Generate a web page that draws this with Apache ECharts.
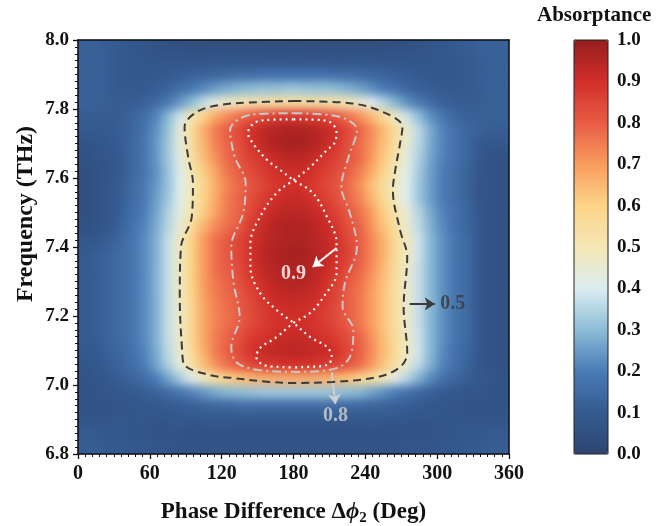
<!DOCTYPE html>
<html>
<head>
<meta charset="utf-8">
<script src="https://cdn.jsdelivr.net/npm/echarts@6/dist/echarts.min.js"></script>
<style>
html,body{margin:0;padding:0;background:#fff;overflow:hidden;}
.layer{position:absolute;left:0;top:0;width:657px;height:526px;}
#clip{position:absolute;left:78px;top:40px;width:431px;height:414px;overflow:hidden;}
#blurLayer{position:absolute;left:-78px;top:-40px;width:657px;height:526px;filter:blur(5px);}
</style>
</head>
<body>
<div id="baseLayer" class="layer"></div>
<div id="clip"><div id="blurLayer"></div></div>
<div id="topLayer" class="layer"></div>
<script>
// Phase difference cell centres (deg) and frequency cell centres (THz)
const phiCenters = [5,15,25,35,45,55,65,75,85,95,105,115,125,135,145,155,165,175,185,195,205,215,225,235,245,255,265,275,285,295,305,315,325,335,345,355];
const freqCenters = [6.82,6.86,6.90,6.94,6.98,7.02,7.06,7.10,7.14,7.18,7.22,7.26,7.30,7.34,7.38,7.42,7.46,7.50,7.54,7.58,7.62,7.66,7.70,7.74,7.78,7.82,7.86,7.90,7.94,7.98];
// Absorptance x100, one row per frequency (ascending), one value per phase column
const absorb = [
 [11,11,10,10,9,9,8,8,7,7,7,7,7,7,7,7,7,7,7,7,7,7,7,7,7,7,7,8,8,8,9,9,10,10,11,11],
 [10,10,9,9,8,8,7,7,7,6,6,6,6,6,6,6,6,6,6,6,6,6,6,6,6,6,6,7,7,7,8,8,9,9,10,10],
 [8,8,8,8,8,8,8,8,9,9,9,9,9,9,9,9,9,9,9,9,9,9,9,9,9,9,9,8,8,8,8,8,8,8,8,8],
 [7,7,7,8,8,9,9,10,11,12,13,14,14,15,15,15,15,15,15,15,15,15,14,14,13,13,12,11,10,9,8,8,7,7,7,7],
 [7,7,8,9,10,11,13,15,18,21,24,27,29,30,31,32,32,32,32,32,32,31,30,29,26,23,20,17,14,12,10,9,8,8,7,7],
 [7,8,9,11,13,16,20,26,33,41,48,55,60,63,65,66,67,67,67,67,66,65,63,60,55,49,42,35,28,22,17,14,11,9,8,7],
 [8,9,11,13,16,20,26,34,44,54,64,72,77,81,85,88,89,90,90,89,88,86,82,78,71,63,54,45,36,28,21,17,13,9,7,6],
 [9,10,12,14,17,21,27,36,46,57,67,75,80,84,89,92,93,94,94,93,92,90,85,80,73,65,57,48,38,29,22,17,14,9,7,6],
 [10,11,13,15,18,22,28,37,47,58,68,75,79,83,87,89,91,92,92,91,89,87,83,79,72,64,56,47,38,29,23,18,15,9,7,6],
 [10,11,13,15,18,22,28,37,47,58,68,74,77,80,84,87,89,90,90,89,87,84,80,76,70,63,55,46,37,29,23,18,15,9,7,6],
 [10,11,13,15,18,22,28,37,47,58,68,74,77,80,84,87,90,91,91,90,87,84,80,76,70,63,55,46,37,29,23,18,15,9,7,6],
 [10,11,13,15,18,22,28,37,48,59,69,75,78,81,85,89,92,93,93,92,89,85,80,76,70,63,55,46,37,29,23,18,15,9,7,6],
 [10,11,13,15,18,22,28,37,48,60,70,76,79,83,87,91,94,95,95,94,91,87,81,77,71,64,55,46,37,29,23,18,15,9,7,6],
 [10,11,13,15,18,22,28,37,48,60,70,77,80,84,89,93,95,96,96,95,92,89,84,79,73,65,56,47,37,29,23,18,15,9,7,6],
 [10,11,13,15,18,22,28,37,48,60,70,77,81,85,90,94,96,97,97,96,94,90,86,80,74,66,57,48,38,29,23,18,15,9,7,6],
 [8,9,11,14,18,22,28,37,48,60,70,77,81,85,89,93,95,96,96,95,93,90,85,80,74,66,57,48,38,29,23,18,15,9,7,6],
 [6,7,9,12,17,21,27,35,45,56,66,73,77,81,88,92,95,96,96,95,92,89,83,79,72,63,55,46,36,28,22,17,14,9,7,6],
 [5,6,8,11,16,20,26,34,43,51,61,69,76,79,85,90,93,94,94,93,90,86,81,77,70,61,53,44,35,27,21,17,14,9,7,6],
 [5,6,8,11,15,19,25,32,41,50,60,68,75,79,83,87,90,92,92,90,87,83,79,74,66,58,49,40,32,25,20,16,13,8,7,6],
 [5,6,8,11,15,19,24,31,40,49,59,67,74,78,82,85,88,90,90,88,85,82,78,72,64,56,48,40,32,25,20,16,13,8,7,6],
 [5,6,8,10,14,18,23,31,41,51,61,69,76,80,84,87,90,91,91,90,87,84,80,75,68,59,50,41,33,25,20,16,13,9,7,6],
 [6,7,8,10,14,18,24,32,42,54,64,72,78,82,86,89,92,94,94,92,89,86,82,78,71,62,53,43,34,26,21,17,14,9,7,6],
 [7,8,9,11,14,18,24,32,43,55,66,74,79,83,89,93,96,97,97,96,93,89,83,78,72,64,55,45,35,27,21,17,14,10,9,9],
 [10,10,10,11,13,17,23,31,44,56,67,75,80,84,90,93,95,96,96,95,93,90,84,79,73,65,56,46,36,27,21,17,14,12,11,11],
 [11,11,11,11,13,16,21,29,38,50,60,68,73,77,81,84,87,88,88,87,85,81,77,72,65,57,47,38,30,23,18,14,12,12,12,12],
 [12,12,11,11,11,12,15,19,24,30,37,43,47,50,52,53,54,55,55,54,53,52,50,46,41,35,29,23,19,15,12,11,11,11,12,12],
 [12,12,11,10,10,10,11,13,16,19,22,25,27,29,30,31,31,32,32,31,31,30,28,26,23,20,17,14,12,11,10,10,10,11,12,12],
 [12,12,11,10,9,9,9,10,11,12,13,14,15,16,16,17,17,17,17,17,17,16,16,15,14,13,12,11,10,9,9,9,10,11,12,12],
 [12,12,11,10,9,8,8,8,8,8,8,8,8,8,8,8,8,8,8,8,8,8,8,8,8,8,8,8,8,8,9,9,10,11,12,12],
 [12,12,11,10,9,8,7,6,6,5,5,5,5,5,5,5,5,5,5,5,5,5,5,5,5,5,6,6,7,8,9,10,11,12,12,12]
];
// Contour lines: [phase (deg), frequency (THz)]
const contour05 = [[180,7.823],[227,7.817],[255,7.791],[271,7.748],[269,7.70],[265,7.623],[263,7.565],[269,7.449],[275,7.371],[272,7.226],[275,7.093],[269,7.052],[250,7.023],[213,7.009],[180,7.006],[160,7.009],[130,7.020],[110,7.029],[89,7.058],[87,7.10],[85,7.255],[86,7.40],[95,7.487],[96,7.585],[92,7.661],[89,7.748],[99,7.791],[119,7.812],[144,7.819],[180,7.823]];
const contour08 = [[180,7.788],[219,7.777],[233,7.739],[226,7.661],[220,7.574],[227,7.499],[233,7.40],[223,7.296],[221,7.226],[230,7.159],[227,7.081],[216,7.049],[185,7.038],[152,7.043],[133,7.064],[128,7.110],[135,7.197],[130,7.296],[128,7.40],[138,7.499],[140,7.586],[131,7.661],[127,7.739],[144,7.783],[180,7.788]];
const contour09a = [[180,7.770],[157,7.768],[147,7.759],[142,7.73],[146,7.701],[158,7.652],[169,7.623],[180,7.594],[196,7.557],[208,7.487],[216,7.412],[216,7.325],[205,7.255],[194,7.209],[180,7.18],[166,7.139],[152,7.107],[149,7.081],[155,7.058],[171,7.052],[180,7.051]];
const contour09b = [[180,7.770],[203,7.768],[212,7.759],[216,7.73],[214,7.70],[208,7.681],[194,7.632],[180,7.594],[166,7.557],[152,7.487],[144,7.412],[144,7.342],[152,7.267],[166,7.217],[180,7.18],[194,7.139],[208,7.110],[212,7.081],[208,7.058],[188,7.052],[180,7.051]];
// Contour annotations: label position and arrow [from, to]
const notes = [
  {text:'0.5', pos:[313,7.235], from:[277,7.235], to:[298,7.235], color:'#3a3a3a'},
  {text:'0.8', pos:[215,6.912], from:[212,7.036], to:[215,6.945], color:'#cfcfcf'},
  {text:'0.9', pos:[180,7.322], from:[216,7.397], to:[196,7.342], color:'#ffffff'}
];
const colorStops = ['#2c4670','#355a90','#4a7bb6','#8dbcd7','#dcedf1','#f4e7b4','#fcd488','#f99c5e','#e75c45','#d22f29','#961d1e'];

const FONT = '"Liberation Serif","Times New Roman",serif';
const heatData = [];
absorb.forEach((row, j) => row.forEach((v, i) => heatData.push([i, j, v / 100])));

const lbl = {fontFamily: FONT, fontWeight: 'bold', fontSize: 19, color: '#111'};
const frameLine = () => ({show: true, onZero: false, lineStyle: {color: '#111', width: 1.5}});
const plotGrid = () => ({left: 78, top: 40, width: 431, height: 414, show: false, containLabel: false, outerBoundsMode: 'none'});
const hidden = () => ({axisLine: {show: false}, axisTick: {show: false}, axisLabel: {show: false}, splitLine: {show: false}});

// heat-only option (used for base and smoothed layer)
function heatOption(showBar) {
  return {
    animation: false,
    backgroundColor: 'transparent',
    grid: [plotGrid()],
    xAxis: [{type: 'category', gridIndex: 0, data: phiCenters.map(String), show: false}],
    yAxis: [{type: 'category', gridIndex: 0, data: freqCenters.map(String), show: false}],
    visualMap: {
      type: 'continuous', min: 0, max: 1, seriesIndex: 0, dimension: 2, show: showBar,
      left: 574, top: 40, itemWidth: 34, itemHeight: 414, padding: 0,
      calculable: false, realtime: false, hoverLink: false,
      inRange: {color: colorStops.slice()}
    },
    series: [{type: 'heatmap', data: heatData.map(d => d.slice()), silent: true, progressive: 0, emphasis: {disabled: true}}]
  };
}

const baseChart = echarts.init(document.getElementById('baseLayer'));
baseChart.setOption(heatOption(true));
const blurChart = echarts.init(document.getElementById('blurLayer'));
blurChart.setOption(heatOption(false));

const topChart = echarts.init(document.getElementById('topLayer'));
topChart.setOption({
  animation: false,
  backgroundColor: 'transparent',
  grid: [
    plotGrid(),
    {left: 574, top: 40, width: 34, height: 414, show: true, z: 10, borderColor: '#222', borderWidth: 1,
     backgroundColor: 'transparent', containLabel: false, outerBoundsMode: 'none'}
  ],
  xAxis: [
    {type: 'value', gridIndex: 0, min: 0, max: 360, interval: 60, position: 'bottom', z: 10,
     axisLine: frameLine(),
     axisTick: {show: true, inside: false, length: 5, lineStyle: {color: '#111', width: 1.3}},
     minorTick: {show: true, splitNumber: 10, length: 3, lineStyle: {color: '#111', width: 1}},
     splitLine: {show: false},
     axisLabel: Object.assign({}, lbl, {margin: 10, fontSize: 20}),
     name: '{t|Phase Difference Δ}{p|ϕ}{s|2}{t| (Deg)}',
     nameLocation: 'middle', nameGap: 44,
     nameTextStyle: {fontFamily: FONT, fontWeight: 'bold', fontSize: 23, color: '#111',
       rich: {
         t: {fontFamily: FONT, fontWeight: 'bold', fontSize: 23, color: '#111'},
         p: {fontFamily: FONT, fontWeight: 'bold', fontStyle: 'italic', fontSize: 23, color: '#111'},
         s: {fontFamily: FONT, fontWeight: 'bold', fontSize: 15, color: '#111', padding: [13, 0, 0, 0]}
       }}
    },
    Object.assign({type: 'value', gridIndex: 0, min: 0, max: 360, position: 'top', z: 10}, hidden(), {axisLine: frameLine()}),
    {type: 'category', gridIndex: 1, data: ['bar'], show: false}
  ],
  yAxis: [
    {type: 'value', gridIndex: 0, min: 6.8, max: 8.0, interval: 0.2, position: 'left', z: 10,
     axisLine: frameLine(),
     axisTick: {show: true, inside: false, length: 5, lineStyle: {color: '#111', width: 1.3}},
     minorTick: {show: true, splitNumber: 10, length: 3, lineStyle: {color: '#111', width: 1}},
     splitLine: {show: false},
     axisLabel: Object.assign({}, lbl, {margin: 9, formatter: v => v.toFixed(1)})
    },
    Object.assign({type: 'value', gridIndex: 0, min: 6.8, max: 8.0, position: 'right', z: 10}, hidden(), {axisLine: frameLine()}),
    {type: 'value', gridIndex: 1, min: 0, max: 1, interval: 0.1, position: 'right',
     axisLine: {show: false}, axisTick: {show: false}, splitLine: {show: false},
     axisLabel: Object.assign({}, lbl, {margin: 9, formatter: v => v.toFixed(1)})}
  ],
  graphic: [
    {type: 'text', left: 537, top: 5, style: {text: 'Absorptance', font: 'bold 21px ' + FONT, fill: '#111'}},
    {type: 'text', x: 26, y: 214, rotation: Math.PI / 2,
     style: {text: 'Frequency (THz)', font: 'bold 24px ' + FONT, fill: '#111', align: 'center', verticalAlign: 'middle'}}
  ],
  series: [
    {type: 'line', xAxisIndex: 0, yAxisIndex: 0, data: contour05, smooth: 0.35, showSymbol: false, silent: true, z: 5,
     lineStyle: {color: '#3a3a3a', width: 2, type: [8, 5]}},
    {type: 'line', xAxisIndex: 0, yAxisIndex: 0, data: contour08, smooth: 0.35, showSymbol: false, silent: true, z: 5,
     lineStyle: {color: '#c8c8c8', width: 2, type: [9, 4, 2, 4]}},
    {type: 'line', xAxisIndex: 0, yAxisIndex: 0, data: contour09a, smooth: 0.35, showSymbol: false, silent: true, z: 6,
     lineStyle: {color: '#ffffff', width: 2.2, type: [2, 4]}},
    {type: 'line', xAxisIndex: 0, yAxisIndex: 0, data: contour09b, smooth: 0.35, showSymbol: false, silent: true, z: 6,
     lineStyle: {color: '#ffffff', width: 2.2, type: [2, 4]}}
  ].concat(notes.map(n => ({
    type: 'scatter', xAxisIndex: 0, yAxisIndex: 0, silent: true, z: 8,
    data: [n.pos], symbolSize: 0, itemStyle: {color: 'transparent'},
    label: {show: true, position: 'inside', formatter: n.text, fontFamily: FONT, fontWeight: 'bold', fontSize: 20, color: n.color},
    markLine: {silent: true, symbol: ['none', 'arrow'], symbolSize: 10, animation: false,
      label: {show: false}, itemStyle: {color: n.color},
      lineStyle: {color: n.color, width: 2, type: 'solid', opacity: 1},
      data: [[{coord: n.from}, {coord: n.to}]]}
  })))
});
</script>
</body>
</html>
